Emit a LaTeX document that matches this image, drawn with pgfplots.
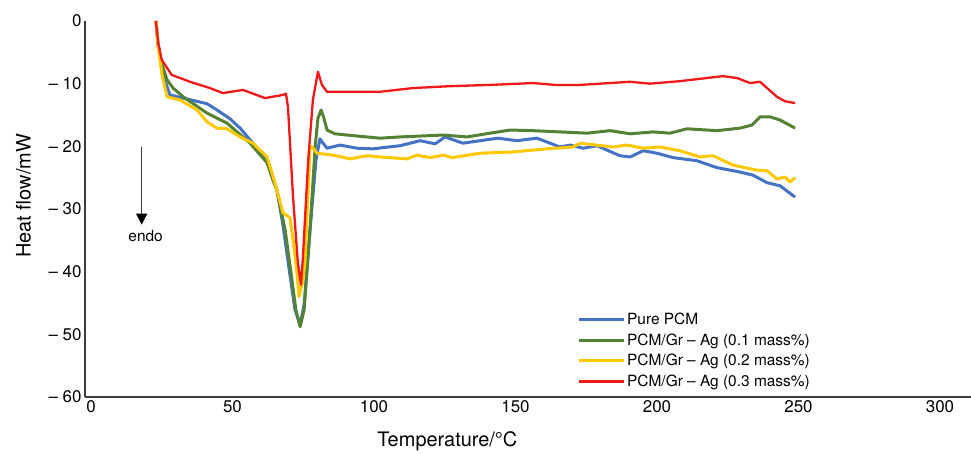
\documentclass[border=0pt]{standalone}
\usepackage{fontspec}
\setmainfont{TeX Gyre Heros}
\usepackage{pgfplots}
\pgfplotsset{compat=1.18}
\usetikzlibrary{arrows.meta}
\definecolor{cblue}{RGB}{68,114,196}
\definecolor{cgreen}{RGB}{84,130,53}
\definecolor{cyellow}{RGB}{255,200,0}
\definecolor{cred}{RGB}{240,24,24}
\definecolor{axgray}{RGB}{60,60,60}
\begin{document}
\begin{tikzpicture}
\begin{axis}[
  scale only axis, width=886bp, height=376bp,
  xmin=-2.12, xmax=310.96, ymin=-60, ymax=0,
  axis x line*=bottom, axis y line*=left,
  axis line style={axgray, line width=1.3bp},
  major tick length=0pt,
  xtick={0,50,...,300}, xticklabels={0,50,100,150,200,250,300},
  ytick={-60,-50,...,0}, yticklabels={– 60,– 50,– 40,– 30,– 20,– 10,0},
  tick label style={font=\fontsize{17}{20}\selectfont},
  xlabel={Temperature/°C}, ylabel={Heat flow/mW},
  label style={font=\fontsize{20}{24}\selectfont},
  xlabel style={at={(axis description cs:0.409,-0.117)}, anchor=center},
  ylabel style={at={(axis description cs:-0.0694,0.535)}, anchor=center},
  legend style={at={(axis description cs:0.5519,0.2344)}, anchor=north west, draw=none, fill=none,
    font=\fontsize{15.5}{18}\selectfont, cells={anchor=west}, row sep=3.5bp},
  legend image code/.code={\draw[#1, line width=3bp] (0bp,0bp) -- (45bp,0bp);},
  line join=round,
]
\coordinate (bl) at (rel axis cs:0,0);
\coordinate (tr) at (rel axis cs:1,1);
\addplot[cblue, line width=3bp] coordinates {
(23,0) (23.7,-3.8) (25.4,-8.6) (27.9,-11.8) (32.5,-12.3) (41,-13.2) (44.5,-14.2) (49.1,-15.6)
(52.7,-17.1) (57.2,-19.5) (62.2,-22.2) (65.7,-27) (67.8,-32.5) (70.3,-40.5) (72.1,-46.1)
(73.9,-48.5) (75.3,-45.3) (77.4,-33.3) (79.5,-22.2) (80.9,-18.8) (82,-19.5) (83.4,-20.3)
(88,-19.8) (94,-20.3) (99.6,-20.4) (109.2,-19.9) (116.3,-19.1) (121.6,-19.6) (125.1,-18.5)
(131.4,-19.5) (137.5,-19.1) (143.8,-18.7) (150.5,-19.1) (157.6,-18.7) (165.7,-20.1)
(169.3,-19.8) (173.9,-20.3) (178.8,-19.9) (186.9,-21.5) (190.5,-21.7) (195.1,-20.7)
(200,-21.1) (205.7,-21.8) (214.1,-22.3) (221.2,-23.4) (229.3,-24.1) (233.9,-24.6)
(238.9,-25.8) (243.5,-26.3) (248.8,-28.1)
};
\addlegendentry{Pure PCM}
\addplot[cgreen, line width=3bp] coordinates {
(23,0) (23.7,-3.8) (25.1,-7) (26.9,-9.4) (29,-10.7) (32.6,-12.1) (41,-14.7) (48.1,-16.3)
(56.2,-19.5) (62.2,-22.6) (64.3,-25.4) (65.7,-27) (68.6,-33.3) (71,-41.3) (72.4,-46.1)
(73.9,-48.8) (75.3,-46.1) (77.4,-33.3) (79.2,-20.1) (80.2,-15.5) (81.3,-14.2) (82.3,-15.5)
(83.4,-17.4) (86.2,-18) (90.5,-18.2) (102.1,-18.7) (109.2,-18.5) (124.4,-18.2) (132.9,-18.5)
(141,-17.9) (148.1,-17.4) (156.2,-17.5) (175.3,-17.9) (183.4,-17.5) (190.5,-18) (198.6,-17.7)
(204.6,-17.9) (210.6,-17.2) (221.2,-17.5) (229.3,-17.1) (233.6,-16.6) (236.4,-15.3)
(240,-15.3) (243.5,-15.8) (248.8,-17.1)
};
\addlegendentry{PCM/Gr – Ag (0.1 mass\%)}
\addplot[cyellow, line width=3bp] coordinates {
(23,0) (23.7,-3.8) (25.1,-8.6) (26.9,-12.1) (31.4,-12.6) (37.5,-14.2) (41,-16.1) (44.5,-17.1)
(48.1,-17.2) (52.7,-18.5) (57.2,-19.5) (62.2,-21.7) (65,-25.8) (67.8,-30.6) (70.3,-31.4)
(71.4,-34.9) (72.8,-40.2) (73.5,-44) (74.6,-42.1) (75.6,-38.6) (77.4,-20.1) (78.1,-20.1)
(79.9,-21.1) (85.5,-21.4) (91.5,-22) (97.5,-21.5) (102.1,-21.7) (111.7,-22) (115.2,-21.4)
(119.8,-21.8) (124.4,-21.4) (127.6,-21.8) (137.5,-21.1) (149.1,-20.9) (161.1,-20.4)
(170.3,-20.1) (172.8,-19.5) (184.5,-20.1) (189.4,-19.8) (195.1,-20.3) (201.1,-20.1)
(208.1,-20.7) (215.2,-21.7) (219.8,-21.5) (226.9,-23) (235.3,-23.8) (238.9,-23.9)
(242.4,-25.2) (245.2,-24.9) (247,-25.7) (248.8,-25)
};
\addlegendentry{PCM/Gr – Ag (0.2 mass\%)}
\addplot[cred, line width=2.3bp] coordinates {
(22.9,0) (23.8,-3.6) (25,-6.2) (28.5,-8.6) (35,-9.7) (42,-10.7) (46.6,-11.5) (53.7,-11)
(61.5,-12.3) (67.8,-11.8) (68.9,-11.6) (69.6,-13.7) (71.4,-28.1) (73.1,-38.6) (74.2,-42.1)
(74.9,-37.6) (76.7,-22.6) (78.4,-12.6) (80.2,-8.1) (81.6,-10.2) (83.4,-11.3) (89.8,-11.3)
(102.1,-11.3) (113.8,-10.7) (126.9,-10.4) (141,-10.2) (156.2,-9.9) (164,-10.2) (172.8,-10.2)
(190.5,-9.7) (197.5,-10) (208.1,-9.6) (223.3,-8.8) (228.3,-9.1) (232.9,-9.9) (236.4,-9.7)
(242.4,-12.1) (245.2,-12.8) (248.8,-13.1)
};
\addlegendentry{PCM/Gr – Ag (0.3 mass\%)}
\draw[axgray, line width=1.3bp, -{Triangle[length=11bp, width=11bp, black]}] (axis cs:17.9,-20.05) -- (axis cs:17.9,-32.5);
\node[font=\fontsize{15.5}{18}\selectfont] at (axis cs:19.3,-34.3) {endo};
\end{axis}
\pgfresetboundingbox
\path ([shift={(-85bp,-57bp)}]bl) rectangle ([shift={(0bp,21bp)}]tr);
\end{tikzpicture}
\end{document}
